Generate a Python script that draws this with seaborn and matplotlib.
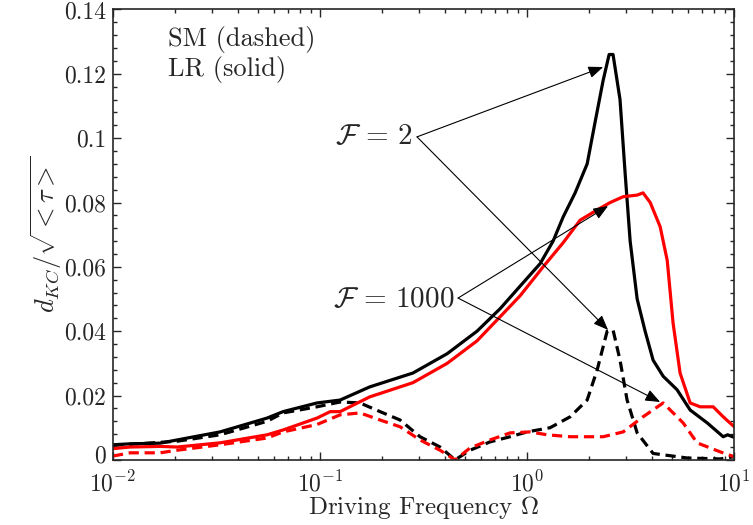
import numpy as np
import pandas as pd
import seaborn as sns
import matplotlib.pyplot as plt
from matplotlib.ticker import FixedLocator, FuncFormatter, LogLocator
from matplotlib.transforms import ScaledTranslation

# LR (solid), F = 2
omega_lr2 = [0.01, 0.0121, 0.0169, 0.0204, 0.0329, 0.0555, 0.0663, 0.0967, 0.125, 0.174,
             0.281, 0.411, 0.573, 0.741, 0.925, 1.156, 1.335, 1.493, 1.706, 1.95,
             2.13, 2.33, 2.49, 2.60, 2.81, 2.975, 3.145, 3.40, 3.715, 4.06,
             4.54, 5.30, 6.13, 7.41, 8.85, 9.3, 10.0]
d_lr2 = [0.0047, 0.0050, 0.0052, 0.0062, 0.0087, 0.0130, 0.0150, 0.0177, 0.0186, 0.0227,
         0.0270, 0.0330, 0.0400, 0.0470, 0.0540, 0.0610, 0.0680, 0.0755, 0.0830, 0.0920,
         0.1050, 0.1180, 0.1260, 0.1260, 0.1120, 0.0890, 0.0680, 0.0500, 0.0400, 0.0310,
         0.0260, 0.0218, 0.0155, 0.0115, 0.0072, 0.0078, 0.0070]

# LR (solid), F = 1000
omega_lr1000 = [0.01, 0.0121, 0.0169, 0.0204, 0.0329, 0.0555, 0.0663, 0.0967, 0.112, 0.125,
                0.174, 0.281, 0.411, 0.573, 0.741, 0.925, 1.195, 1.493, 1.803, 2.18,
                2.52, 2.91, 3.40, 3.63, 3.93, 4.39, 4.75, 5.07, 5.48, 6.13,
                6.85, 7.92, 8.85, 10.0]
d_lr1000 = [0.0035, 0.0040, 0.0042, 0.0040, 0.0053, 0.0078, 0.0093, 0.0130, 0.0150, 0.0150,
            0.0196, 0.0240, 0.0300, 0.0370, 0.0445, 0.0510, 0.0600, 0.0675, 0.0745, 0.0777,
            0.0800, 0.0818, 0.0823, 0.0830, 0.0800, 0.0725, 0.0620, 0.0425, 0.0270, 0.0177,
            0.0165, 0.0165, 0.0134, 0.0103]

# SM (dashed), F = 2
omega_sm2 = [0.01, 0.0204, 0.0329, 0.0555, 0.0663, 0.0967, 0.125, 0.156, 0.195, 0.2435,
             0.304, 0.380, 0.449, 0.530, 0.662, 0.828, 1.0, 1.291, 1.614, 1.95,
             2.18, 2.435, 2.60, 2.81, 3.04, 3.40, 4.06, 5.93, 8.56, 10.0]
d_sm2 = [0.0045, 0.0058, 0.0078, 0.0120, 0.0146, 0.0165, 0.0180, 0.0177, 0.0150, 0.0124,
         0.0072, 0.0040, 0.0000, 0.0030, 0.0056, 0.0072, 0.0087, 0.0100, 0.0134, 0.0186,
         0.0280, 0.0400, 0.0404, 0.0310, 0.0186, 0.0084, 0.0020, 0.0006, 0.0003, 0.0010]

# SM (dashed), F = 1000
omega_sm1000 = [0.01, 0.0121, 0.0169, 0.0204, 0.0329, 0.0555, 0.0663, 0.0967, 0.125, 0.156,
                0.195, 0.2435, 0.304, 0.380, 0.449, 0.530, 0.662, 0.828, 1.034, 1.249,
                1.614, 2.33, 2.91, 3.63, 4.54, 5.67, 6.62, 8.56, 10.0]
d_sm1000 = [0.0012, 0.0022, 0.0022, 0.0030, 0.0047, 0.0068, 0.0087, 0.0110, 0.0140, 0.0146,
            0.0124, 0.0103, 0.0062, 0.0030, 0.0000, 0.0037, 0.0062, 0.0084, 0.0087, 0.0078,
            0.0072, 0.0072, 0.0087, 0.0134, 0.0177, 0.0115, 0.0053, 0.0025, 0.0010]

y_ticks = [0, 0.02, 0.04, 0.06, 0.08, 0.1, 0.12, 0.14]

df = pd.concat([
    pd.DataFrame({'omega': omega_lr2, 'd': d_lr2, 'F': '2', 'model': 'LR'}),
    pd.DataFrame({'omega': omega_lr1000, 'd': d_lr1000, 'F': '1000', 'model': 'LR'}),
    pd.DataFrame({'omega': omega_sm2, 'd': d_sm2, 'F': '2', 'model': 'SM'}),
    pd.DataFrame({'omega': omega_sm1000, 'd': d_sm1000, 'F': '1000', 'model': 'SM'}),
], ignore_index=True)

sns.set_style('ticks')
plt.rcParams['font.family'] = 'serif'
plt.rcParams['font.serif'] = ['cmr10']
plt.rcParams['mathtext.fontset'] = 'cm'
plt.rcParams['axes.formatter.use_mathtext'] = True
plt.rcParams['axes.unicode_minus'] = False

fig = plt.figure(figsize=(7.53, 5.25), dpi=100)
ax = fig.add_axes([0.150, 0.124, 0.825, 0.858])

sns.lineplot(data=df, x='omega', y='d', hue='F', style='model',
             palette={'2': 'black', '1000': '#ff0000'},
             dashes={'LR': '', 'SM': (3.2, 1.8)},
             estimator=None, lw=2.3, legend=False, ax=ax)

ax.set_xscale('log')
ax.set_xlim(0.01, 10)
ax.set_ylim(0, 0.14)
ax.yaxis.set_major_locator(FixedLocator(y_ticks))
ax.yaxis.set_major_formatter(FuncFormatter(lambda v, p: '%g' % v))
ax.yaxis.set_minor_locator(FixedLocator(np.arange(0, 0.1401, 0.004)))
ax.xaxis.set_minor_locator(LogLocator(base=10, subs=np.arange(2, 10)))
ax.tick_params(which='both', direction='in', top=True, right=True, labelsize=17, width=1)
ax.tick_params(which='major', length=6)
ax.tick_params(which='minor', length=3)
ax.tick_params(axis='x', pad=8)
ax.tick_params(axis='y', pad=5)
for s in ax.spines.values():
    s.set_linewidth(1.2)

# nudge the "0" label up a little so it clears the 10^-2 label
zero_lbl = ax.yaxis.get_major_ticks()[0].label1
zero_lbl.set_transform(zero_lbl.get_transform() + ScaledTranslation(0, 4 / 72, fig.dpi_scale_trans))

ax.set_xlabel(r'Driving Frequency $\Omega$', fontsize=18, labelpad=-2)
ax.set_ylabel(r'$d_{KC}/\sqrt{<\tau>}$', fontsize=19, labelpad=0)

ax.text(0.0185, 0.1307, 'SM (dashed)', fontsize=19, va='center')
ax.text(0.0185, 0.1213, 'LR (solid)', fontsize=19, va='center')

arrow = dict(arrowstyle='-|>,head_length=0.45,head_width=0.18', color='black',
             lw=0.8, shrinkA=0, shrinkB=0, mutation_scale=20)

ax.text(0.28, 0.1004, r'$\mathcal{F}\,=\,2$', fontsize=21, ha='right', va='center')
ax.annotate('', xy=(2.33, 0.1221), xytext=(0.294, 0.1004), arrowprops=arrow)
ax.annotate('', xy=(2.46, 0.0404), xytext=(0.294, 0.1004), arrowprops=arrow)

ax.text(0.445, 0.0497, r'$\mathcal{F}\,=\,1000$', fontsize=21, ha='right', va='center')
ax.annotate('', xy=(2.46, 0.0789), xytext=(0.464, 0.0503), arrowprops=arrow)
ax.annotate('', xy=(4.39, 0.0180), xytext=(0.464, 0.0503), arrowprops=arrow)

fig.savefig('out.png', dpi=100)
